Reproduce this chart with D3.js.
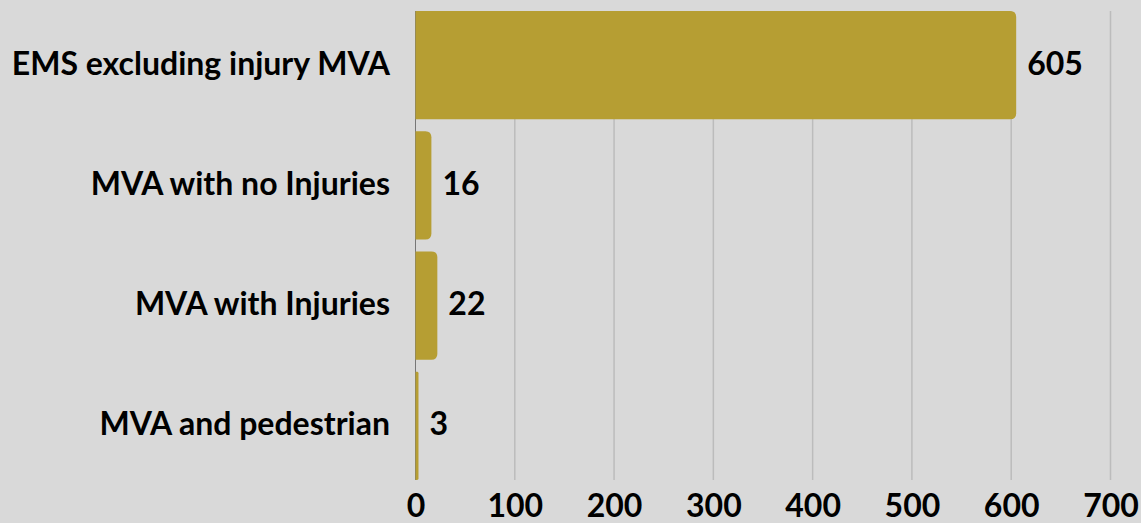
<!DOCTYPE html>
<html>
<head>
<meta charset="utf-8">
<script src="https://cdn.jsdelivr.net/npm/d3@7"></script>
<style>
  html, body { margin: 0; padding: 0; background: #d9d9d9; }
  svg { display: block; font-family: Lato, sans-serif; font-weight: bold; }
</style>
</head>
<body>
<svg id="chart"></svg>
<script>
// data
const categories = ['EMS excluding injury MVA', 'MVA with no Injuries', 'MVA with Injuries', 'MVA and pedestrian'];
const values = [605, 16, 22, 3];
const xTicks = [0, 100, 200, 300, 400, 500, 600, 700];

const width = 1141, height = 523;
const svg = d3.select('#chart').attr('width', width).attr('height', height);

// scales
const x = d3.scaleLinear().domain([0, 700]).range([415.5, 1110.5]);
const y = d3.scaleBand().domain(categories).range([5, 486]).paddingInner(0.1).paddingOuter(0.05);

const gridTop = y(categories[0]);
const gridBottom = y(categories[categories.length - 1]) + y.bandwidth();

// gridlines
svg.append('g')
  .selectAll('line')
  .data(xTicks.slice(1))
  .join('line')
  .attr('x1', d => x(d)).attr('x2', d => x(d))
  .attr('y1', gridTop).attr('y2', gridBottom)
  .attr('stroke', '#bcbcbc')
  .attr('stroke-width', 1.5);

// zero axis line
svg.append('line')
  .attr('x1', x(0)).attr('x2', x(0))
  .attr('y1', gridTop).attr('y2', gridBottom)
  .attr('stroke', '#777')
  .attr('stroke-width', 1);

// bars with rounded right end
function barPath(d, i) {
  const x0 = x(0), x1 = x(d), y0 = y(categories[i]), h = y.bandwidth();
  const r = Math.min(6, (x1 - x0) / 2);
  return `M${x0},${y0}H${x1 - r}Q${x1},${y0} ${x1},${y0 + r}V${y0 + h - r}Q${x1},${y0 + h} ${x1 - r},${y0 + h}H${x0}Z`;
}
svg.append('g')
  .selectAll('path')
  .data(values)
  .join('path')
  .attr('d', barPath)
  .attr('fill', '#b69e33');

// value labels
svg.append('g')
  .selectAll('text')
  .data(values)
  .join('text')
  .attr('x', d => x(d) + 11)
  .attr('y', (d, i) => y(categories[i]) + y.bandwidth() / 2)
  .attr('dy', '0.3em')
  .attr('font-size', 32)
  .attr('fill', '#000')
  .text(d => d);

// category labels
svg.append('g')
  .selectAll('text')
  .data(categories)
  .join('text')
  .attr('x', 390)
  .attr('y', d => y(d) + y.bandwidth() / 2)
  .attr('dy', '0.3em')
  .attr('text-anchor', 'end')
  .attr('font-size', 32)
  .attr('fill', '#000')
  .text(d => d);

// x axis tick labels
const xAxis = d3.axisBottom(x).tickValues(xTicks).tickSize(0).tickPadding(0);
const gx = svg.append('g').attr('transform', `translate(0, ${gridBottom})`).call(xAxis);
gx.select('.domain').remove();
gx.selectAll('text')
  .attr('y', 0)
  .attr('dy', 37)
  .attr('font-family', 'Lato, sans-serif')
  .attr('font-weight', 'bold')
  .attr('font-size', 32)
  .attr('fill', '#000');
</script>
</body>
</html>
